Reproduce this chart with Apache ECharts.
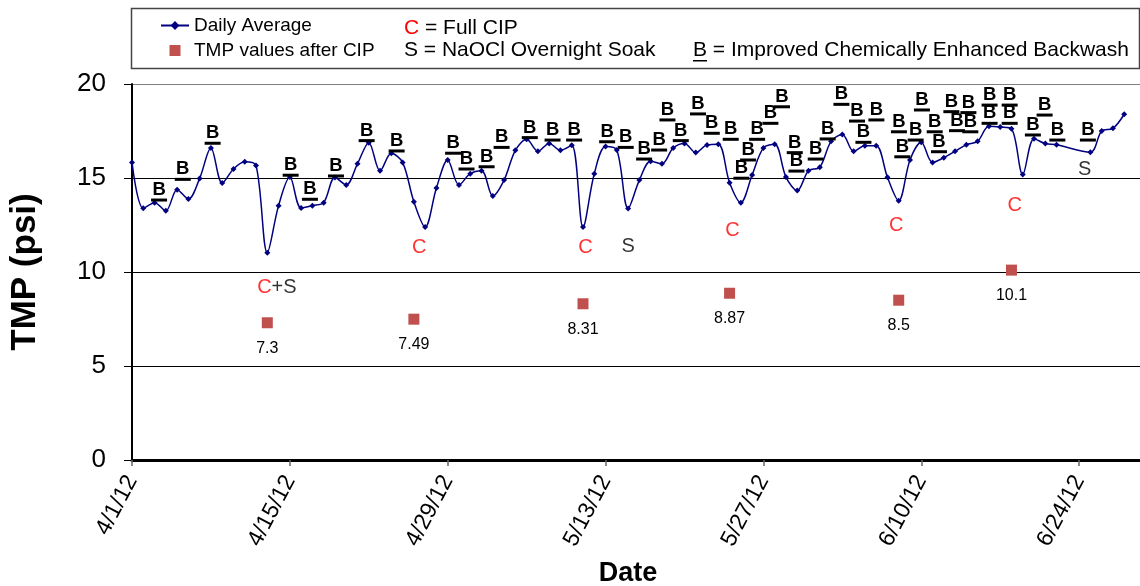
<!DOCTYPE html>
<html>
<head>
<meta charset="utf-8">
<script src="https://cdn.jsdelivr.net/npm/echarts@6/dist/echarts.min.js"></script>
<style>
  html, body { margin: 0; padding: 0; background: #fff; }
  #chart { width: 1140px; height: 586px; }
</style>
</head>
<body>
<div id="chart"></div>
<script>
// ---- Data (day index counted from 4/1/12) ----
const days = [0,1,2,3,4,5,6,7,8,9,10,11,12,13,14,15,16,17,18,19,20,21,22,23,24,25,26,27,28,29,
  30,31,32,33,34,35,36,37,38,39,40,41,42,43,44,45,46,47,48,49,50,51,52,53,54,55,56,57,58,59,
  60,61,62,63,64,65,66,67,68,69,70,71,72,73,74,75,76,77,78,79,80,81,82,85,86,87,88];
const dailyAverage = [15.83,13.39,13.69,13.26,14.38,13.88,14.98,16.60,14.73,15.48,15.87,15.67,11.03,13.53,15.05,13.40,13.53,13.69,15.02,14.63,
  15.76,16.88,15.38,16.31,15.83,13.74,12.39,14.47,15.96,14.63,15.23,15.39,14.04,14.89,16.47,17.06,16.42,16.84,16.47,16.74,
  12.39,15.23,16.67,16.49,13.38,14.89,15.89,15.76,16.60,16.84,16.35,16.76,16.79,14.75,13.69,15.16,16.60,16.79,15.05,14.33,
  15.39,15.57,16.95,17.32,16.42,16.72,16.72,15.04,13.79,15.96,16.90,15.82,16.08,16.42,16.77,16.95,17.75,17.71,17.62,15.18,
  17.09,16.83,16.77,16.37,17.50,17.64,18.39];

const cipDays = [12, 25, 40, 53, 68, 78];
const cipValues = [7.3, 7.49, 8.31, 8.87, 8.5, 10.1];

// Improved CEB markers "B" (day, TMP level)
const bDays = [2.4,4.5,7.15,14.07,15.78,18.09,20.81,23.47,28.48,29.67,31.45,32.78,35.28,37.3,39.21,42.14,43.79,45.42,46.75,47.49,
  48.67,50.2,51.42,53.1,54.05,54.64,55.44,56.62,57.65,58.78,58.93,60.64,61.7,62.92,64.3,64.87,66.02,68.02,68.32,69.5,
  70.06,71.19,71.57,72.67,73.17,74.18,74.35,76.06,76.06,77.84,77.84,79.9,80.94,82.07,84.78];
const bLevels = [14.36,15.46,17.38,15.68,14.4,15.64,17.52,16.97,16.85,16.01,16.13,17.16,17.68,17.55,17.55,17.46,17.16,16.54,17.02,18.62,
  17.52,18.94,17.91,17.59,15.52,16.49,17.59,18.44,19.32,16.88,15.9,16.54,17.61,19.45,18.56,17.43,18.62,17.99,16.66,17.55,
  19.15,17.99,16.93,19.06,18.05,19.01,17.99,19.41,18.44,19.41,18.44,17.82,18.88,17.55,17.55];

// C / S event notes
const noteText = ['C+S','C','C','S','C','C','C','S'];
const noteDays = [12.85,25.47,40.22,44.0,53.25,67.79,78.28,84.49];
const noteLevels = [9.2,11.31,11.31,11.35,12.23,12.46,13.56,15.46];

const xTickDays = [0,14,28,42,56,70,84];
const xTickLabels = ['4/1/12','4/15/12','4/29/12','5/13/12','5/27/12','6/10/12','6/24/12'];
const yTicks = [0,5,10,15,20];

// ---- Chart ----
const FONT = '"Liberation Sans", Arial, sans-serif';
const chart = echarts.init(document.getElementById('chart'), null, {renderer: 'canvas'});

const lineData = days.map((d, i) => [d, dailyAverage[i]]);
const cipData = cipDays.map((d, i) => [d, cipValues[i]]);
const bData = bDays.map((d, i) => [d, bLevels[i]]);
const noteData = noteDays.map((d, i) => ({value: [d, noteLevels[i]], note: noteText[i]}));

function richNote(t) {
  return t.split('').map(ch => ch === 'C' ? '{r|C}' : '{k|' + ch + '}').join('');
}

const option = {
  animation: false,
  backgroundColor: '#fff',
  textStyle: {fontFamily: FONT},
  grid: {left: 132, right: 0, top: 84, bottom: 126, containLabel: false, outerBoundsMode: 'none'},
  legend: {
    orient: 'vertical',
    left: 160,
    top: 16,
    padding: 0,
    itemWidth: 28,
    itemHeight: 11,
    itemGap: 6,
    symbolKeepAspect: true,
    textStyle: {fontSize: 19, color: '#000', fontFamily: FONT},
    data: [{name: 'Daily Average'}, {name: 'TMP values after CIP', icon: 'path://M0,0h10v10h-10z'}]
  },
  xAxis: {
    type: 'value',
    min: 0,
    max: 89.4,
    name: 'Date',
    nameLocation: 'middle',
    nameGap: 100,
    nameTextStyle: {fontSize: 27, fontWeight: 'bold', color: '#000', fontFamily: FONT, padding: [0, 16, 0, 0]},
    axisLine: {lineStyle: {color: '#000', width: 3}},
    axisTick: {show: true, length: 6, customValues: xTickDays, lineStyle: {color: '#666', width: 1.5}},
    axisLabel: {
      customValues: xTickDays,
      rotate: 62,
      fontSize: 23,
      color: '#000',
      margin: 17,
      fontFamily: FONT,
      formatter: v => { const k = xTickDays.indexOf(Math.round(v)); return k >= 0 ? xTickLabels[k] : ''; }
    },
    splitLine: {show: false}
  },
  yAxis: {
    type: 'value',
    min: 0,
    max: 20,
    interval: 5,
    name: 'TMP (psi)',
    nameLocation: 'middle',
    nameGap: 89,
    nameTextStyle: {fontSize: 35, fontWeight: 'bold', color: '#000', fontFamily: FONT},
    axisLine: {show: true, lineStyle: {color: '#000', width: 2}},
    axisTick: {show: true, length: 8, lineStyle: {color: '#000', width: 1}},
    axisLabel: {fontSize: 26, color: '#000', margin: 26, fontFamily: FONT,
      formatter: v => yTicks.indexOf(v) >= 0 ? String(v) : ''},
    splitLine: {show: true, lineStyle: {color: ['#000', '#000', '#000', '#000', '#808080'], width: 1}}
  },
  series: [
    {
      name: 'Daily Average',
      type: 'line',
      data: lineData,
      smooth: 0.33,
      symbol: 'diamond',
      symbolSize: 6,
      showAllSymbol: true,
      lineStyle: {color: '#000080', width: 1.5},
      itemStyle: {color: '#000080'},
      z: 5
    },
    {
      name: 'TMP values after CIP',
      type: 'scatter',
      data: cipData,
      symbol: 'rect',
      symbolSize: 11,
      itemStyle: {color: '#C0504D', opacity: 1},
      label: {
        show: true,
        position: 'bottom',
        distance: 12,
        fontSize: 16,
        color: '#000',
        fontFamily: FONT,
        formatter: p => String(p.value[1])
      },
      z: 4
    },
    {
      name: 'B markers',
      type: 'custom',
      data: bData,
      clip: false,
      silent: true,
      encode: {x: 0, y: 1},
      renderItem: function (params, api) {
        const p = api.coord([api.value(0), api.value(1)]);
        return {
          type: 'group',
          children: [
            {type: 'text', x: p[0], y: p[1],
              style: {text: 'B', align: 'center', verticalAlign: 'middle', fontSize: 18.5, fontWeight: 'bold', fontFamily: FONT, fill: '#000'}},
            {type: 'rect', shape: {x: p[0] - 8, y: p[1] + 8.5, width: 16, height: 3}, style: {fill: '#000'}}
          ]
        };
      },
      z: 6
    },
    {
      name: 'Notes',
      type: 'scatter',
      data: noteData,
      symbolSize: 0,
      silent: true,
      label: {
        show: true,
        position: 'inside',
        formatter: p => richNote(p.data.note),
        rich: {
          r: {color: '#FF0000', fontSize: 20, fontFamily: FONT},
          k: {color: '#000', fontSize: 20, fontFamily: FONT}
        }
      },
      z: 6
    }
  ],
  graphic: [
    {type: 'rect', left: 129, top: 6, shape: {width: 1008, height: 60},
      style: {fill: 'none', stroke: '#444', lineWidth: 1.5}, z: -1},
    {type: 'text', left: 404, top: 18,
      style: {text: '{r|C}{k| = Full CIP}', rich: {r: {fill: '#FF0000', fontSize: 21, fontFamily: FONT}, k: {fill: '#000', fontSize: 21, fontFamily: FONT}}}},
    {type: 'text', left: 404, top: 40,
      style: {text: 'S = NaOCl Overnight Soak', fill: '#000', fontSize: 21, fontFamily: FONT}},
    {type: 'text', left: 693, top: 40,
      style: {text: 'B = Improved Chemically Enhanced Backwash', fill: '#000', fontSize: 21, fontFamily: FONT}},
    {type: 'rect', left: 693, top: 60, shape: {width: 14, height: 1.5}, style: {fill: '#000'}}
  ]
};
chart.setOption(option);
</script>
</body>
</html>
